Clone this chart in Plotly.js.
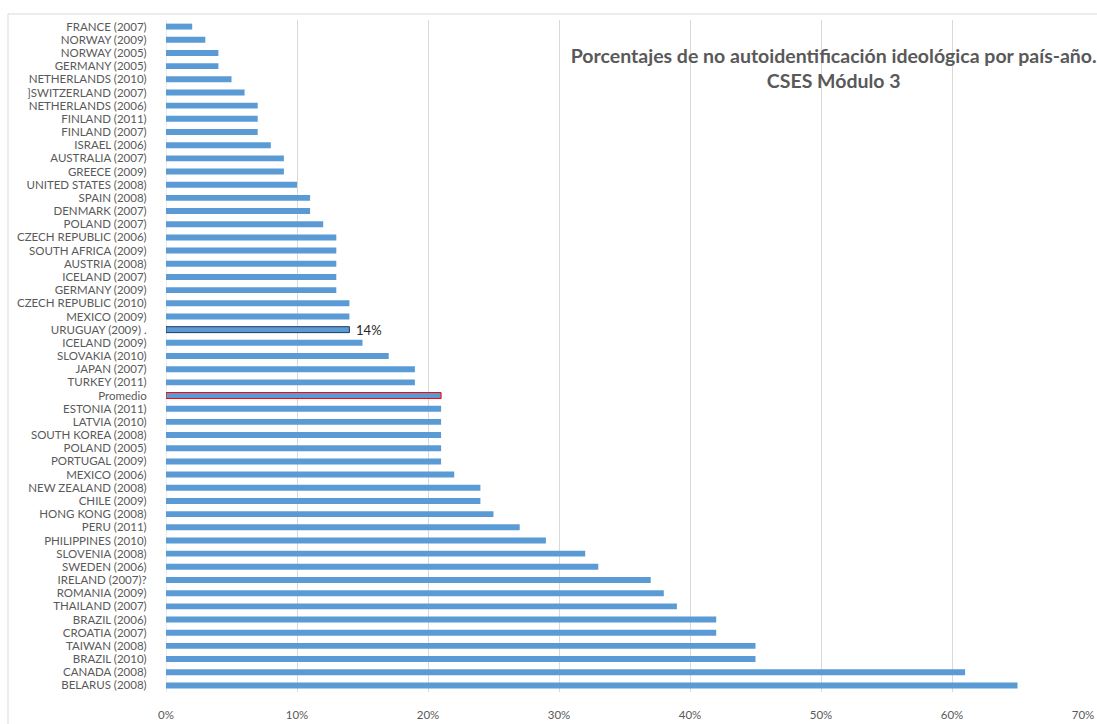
<!DOCTYPE html>
<html>
<head>
<meta charset="utf-8">
<script src="https://cdn.plot.ly/plotly-3.0.1.min.js"></script>
<style>html,body{margin:0;padding:0;background:#fff;}#chart{width:1097px;height:724px;}</style>
</head>
<body>
<div id="chart"></div>
<script>
const categories = [
  "FRANCE (2007)", "NORWAY (2009)", "NORWAY (2005)", "GERMANY (2005)", "NETHERLANDS (2010)",
  "]SWITZERLAND (2007)", "NETHERLANDS (2006)", "FINLAND (2011)", "FINLAND (2007)", "ISRAEL (2006)",
  "AUSTRALIA (2007)", "GREECE (2009)", "UNITED STATES (2008)", "SPAIN (2008)", "DENMARK (2007)",
  "POLAND (2007)", "CZECH REPUBLIC (2006)", "SOUTH AFRICA (2009)", "AUSTRIA (2008)", "ICELAND (2007)",
  "GERMANY (2009)", "CZECH REPUBLIC (2010)", "MEXICO (2009)", "URUGUAY (2009) .", "ICELAND (2009)",
  "SLOVAKIA (2010)", "JAPAN (2007)", "TURKEY (2011)", "Promedio", "ESTONIA (2011)",
  "LATVIA (2010)", "SOUTH KOREA (2008)", "POLAND (2005)", "PORTUGAL (2009)", "MEXICO (2006)",
  "NEW ZEALAND (2008)", "CHILE (2009)", "HONG KONG (2008)", "PERU (2011)", "PHILIPPINES (2010)",
  "SLOVENIA (2008)", "SWEDEN (2006)", "IRELAND (2007)?", "ROMANIA (2009)", "THAILAND (2007)",
  "BRAZIL (2006)", "CROATIA (2007)", "TAIWAN (2008)", "BRAZIL (2010)", "CANADA (2008)",
  "BELARUS (2008)"
];
const values = [
  2, 3, 4, 4, 5,
  6, 7, 7, 7, 8,
  9, 9, 10, 11, 11,
  12, 13, 13, 13, 13,
  13, 14, 14, 14, 15,
  17, 19, 19, 21, 21,
  21, 21, 21, 21, 22,
  24, 24, 25, 27, 29,
  32, 33, 37, 38, 39,
  42, 42, 45, 45, 61,
  65
];
const highlightCategory = "URUGUAY (2009) .";
const averageCategory = "Promedio";
const xTickValues = [0, 10, 20, 30, 40, 50, 60, 70];
const xTickLabels = ["0%", "10%", "20%", "30%", "40%", "50%", "60%", "70%"];
const titleText = "Porcentajes de no autoidentificación ideológica por país-año.<br>CSES Módulo 3";

const lineColors = categories.map(c => c === highlightCategory ? "#1F3864" : (c === averageCategory ? "#FF0000" : "rgba(0,0,0,0)"));
const lineWidths = categories.map(c => (c === highlightCategory || c === averageCategory) ? 1 : 0);
const barText = categories.map((c, i) => c === highlightCategory ? "  " + values[i] + "%" : "");

const trace = {
  type: "bar",
  orientation: "h",
  y: categories,
  x: values,
  width: 0.45,
  marker: { color: "#5B9BD5", line: { color: lineColors, width: lineWidths } },
  text: barText,
  textposition: "outside",
  constraintext: "none",
  cliponaxis: false,
  textfont: { family: "Lato, sans-serif", size: 13, color: "#262626" },
  hoverinfo: "x+y"
};

const layout = {
  width: 1097,
  height: 724,
  margin: { l: 166, r: 14, t: 20, b: 32 },
  paper_bgcolor: "#ffffff",
  plot_bgcolor: "#ffffff",
  showlegend: false,
  font: { family: "Lato, sans-serif", color: "#595959" },
  title: {
    text: titleText,
    font: { family: "Lato, sans-serif", size: 19.5, color: "#595959", weight: "bold" },
    xref: "container", yref: "container",
    x: 0.76, xanchor: "center",
    y: 0.913, yanchor: "top"
  },
  xaxis: {
    range: [0, 70],
    tickmode: "array",
    tickvals: xTickValues,
    ticktext: xTickLabels,
    showgrid: true,
    gridcolor: "#D9D9D9",
    gridwidth: 1,
    zeroline: false,
    showline: false,
    ticks: "outside",
    ticklen: 12,
    tickcolor: "rgba(0,0,0,0)",
    tickfont: { family: "Lato, sans-serif", size: 11.5, color: "#595959" },
    fixedrange: true
  },
  yaxis: {
    type: "category",
    categoryorder: "array",
    categoryarray: categories,
    tickmode: "array",
    tickvals: categories,
    ticktext: categories,
    autorange: "reversed",
    showgrid: false,
    zeroline: false,
    showline: false,
    ticks: "outside",
    ticklen: 16,
    tickcolor: "rgba(0,0,0,0)",
    tickfont: { family: "Lato, sans-serif", size: 11.5, color: "#595959" },
    fixedrange: true
  },
  shapes: [
    { type: "line", xref: "x", yref: "paper", x0: 0, x1: 0, y0: 0, y1: 1, line: { color: "#D9D9D9", width: 1 }, layer: "below" },
    { type: "rect", xref: "paper", yref: "paper", x0: -0.1723, x1: 1.05, y0: -0.1, y1: 1.009, line: { color: "#D9D9D9", width: 1 }, fillcolor: "rgba(0,0,0,0)" }
  ]
};

Plotly.newPlot("chart", [trace], layout, { displayModeBar: false, staticPlot: true });
</script>
</body>
</html>
